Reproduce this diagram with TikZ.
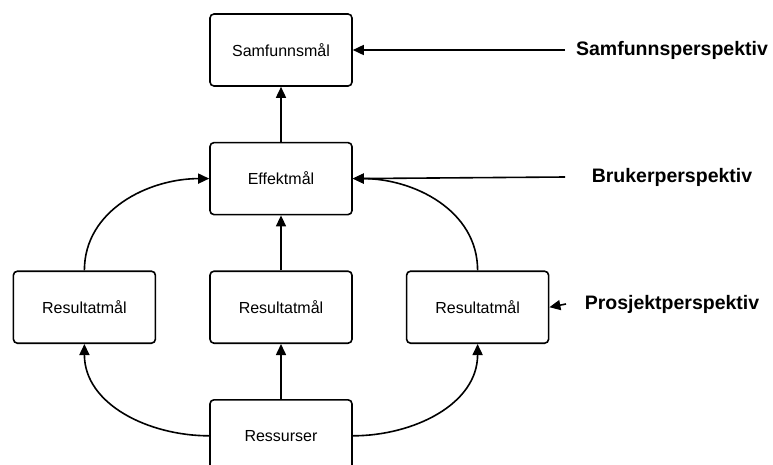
\documentclass[tikz,border=0pt]{standalone}
\usepackage{fontspec}
\setmainfont{Liberation Sans}
\usepackage{tikz}
\usetikzlibrary{arrows.meta,positioning}

\begin{document}
\begin{tikzpicture}[
  x=1pt, y=1pt,
  goal/.style={rectangle, rounded corners=4pt, draw=black, fill=white,
    minimum width=142pt, minimum height=72pt, line width=1.6pt,
    font=\fontsize{16}{19}\selectfont, align=center},
  persp/.style={font=\fontsize{19.5}{23}\selectfont\bfseries, anchor=center},
  arrow/.style={-{Triangle[length=11pt,width=10pt]}, line width=1.6pt},
  node distance=55pt and 53pt
]
\useasboundingbox (0,0) rectangle (773,-464);

% goal hierarchy
\node[goal] (samfunn) at (281,-50) {Samfunnsmål};
\node[goal, below=of samfunn] (effekt) {Effektmål};
\node[goal, below=of effekt] (resM) {Resultatmål};
\node[goal, left=of resM] (resL) {Resultatmål};
\node[goal, right=of resM] (resR) {Resultatmål};
\node[goal, below=of resM] (ressurser) {Ressurser};

\draw[arrow] (effekt) -- (samfunn);
\draw[arrow] (resM) -- (effekt);
\draw[arrow] (ressurser) -- (resM);
\draw[arrow] (resL.north) to[out=90, in=180] (effekt.west);
\draw[arrow] (resR.north) to[out=90, in=0] (effekt.east);
\draw[arrow] (ressurser.west) to[out=180, in=270] (resL.south);
\draw[arrow] (ressurser.east) to[out=0, in=270] (resR.south);

% perspectives
\node[persp] (pSamfunn) at (672,-50) {Samfunnsperspektiv};
\node[persp] (pBruker) at (672,-177) {Brukerperspektiv};
\node[persp] (pProsjekt) at (672,-304) {Prosjektperspektiv};

\coordinate (sSamfunn) at (565,-50);
\coordinate (sBruker) at (565,-177);
\coordinate (sProsjekt) at (566,-304);

\draw[arrow] (sSamfunn) -- (samfunn.east);
\draw[arrow] (sBruker) -- (effekt.east);
\draw[arrow] (sProsjekt) -- (resR.east);

\end{tikzpicture}
\end{document}
